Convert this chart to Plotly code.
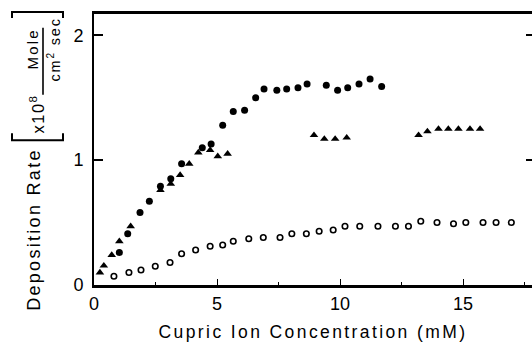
import plotly.graph_objects as go

# ---- data ----
filled_x = [1.03, 1.37, 1.87, 2.25, 2.70, 3.12, 3.56, 4.40, 4.76, 5.23, 5.66, 6.12,
            6.57, 6.91, 7.43, 7.83, 8.29, 8.66, 9.44, 9.90, 10.31, 10.77, 11.22, 11.69]
filled_y = [0.26, 0.41, 0.58, 0.67, 0.79, 0.85, 0.97, 1.10, 1.13, 1.28, 1.39, 1.40,
            1.50, 1.57, 1.56, 1.57, 1.58, 1.61, 1.60, 1.56, 1.58, 1.61, 1.65, 1.59]

tri_x = [0.24, 0.40, 0.72, 1.03, 1.49, 2.70, 3.12, 3.50, 3.87, 4.24, 4.72, 5.03, 5.43,
         8.94, 9.36, 9.80, 10.27, 13.19, 13.55, 14.00, 14.40, 14.81, 15.28, 15.69]
tri_y = [0.10, 0.155, 0.24, 0.35, 0.47, 0.76, 0.81, 0.88, 0.97, 1.06, 1.08, 1.03, 1.05,
         1.20, 1.17, 1.17, 1.18, 1.20, 1.23, 1.25, 1.25, 1.25, 1.25, 1.25]

open_x = [0.81, 1.42, 1.91, 2.49, 3.09, 3.56, 4.13, 4.72, 5.23, 5.66, 6.29, 6.88, 7.56,
          8.04, 8.63, 9.15, 9.72, 10.20, 10.80, 11.54, 12.25, 12.78, 13.28, 13.94,
          14.61, 15.11, 15.81, 16.34, 16.96]
open_y = [0.07, 0.10, 0.12, 0.15, 0.18, 0.25, 0.28, 0.31, 0.32, 0.35, 0.37, 0.38, 0.38,
          0.41, 0.41, 0.43, 0.44, 0.47, 0.47, 0.47, 0.47, 0.47, 0.51, 0.50,
          0.49, 0.50, 0.50, 0.50, 0.50]

x_title = "Cupric Ion Concentration (mM)"
y_title_main = "Deposition Rate"
y_title_factor = "x10<sup>8</sup>"
y_title_num = "Mole"
y_title_den = "cm<sup>2</sup> sec"

FONT = "Liberation Sans, Arial, Helvetica, sans-serif"
W, H = 532, 342
L, R, T, B = 94, 0, 14, 53
PW, PH = W - L - R, H - T - B


def px(xpix):
    return (xpix - L) / PW


def py(ypix):
    return (H - B - ypix) / PH


def spaced(s, sp):
    return f'<span style="letter-spacing:{sp}px">{s}</span>'


fig = go.Figure()
fig.add_trace(go.Scatter(x=filled_x, y=filled_y, mode="markers",
                         marker=dict(symbol="circle", size=7, color="black"),
                         showlegend=False))
fig.add_trace(go.Scatter(x=tri_x, y=tri_y, mode="markers", yaxis="y2",
                         marker=dict(symbol="triangle-up", size=7.5, color="black"),
                         showlegend=False))
fig.add_trace(go.Scatter(x=open_x, y=open_y, mode="markers",
                         marker=dict(symbol="circle-open", size=5.5, color="black",
                                     line=dict(width=1.6, color="black")),
                         showlegend=False))

yr = [0, 2.17]
fig.update_layout(
    width=W, height=H,
    margin=dict(l=L, r=R, t=T, b=B, pad=0),
    paper_bgcolor="white", plot_bgcolor="white",
    font=dict(family=FONT, size=17, color="black"),
    xaxis=dict(range=[0, 17.8], showgrid=False, zeroline=False,
               showline=True, linewidth=3, linecolor="black", mirror=True,
               ticks="inside", ticklen=6, tickwidth=1.2, tickcolor="black",
               tickvals=[0, 5, 10, 15],
               minor=dict(tickvals=[2.5, 7.5, 12.5, 17.5], ticks="inside",
                          ticklen=3, tickwidth=1, tickcolor="black"),
               tickfont=dict(size=18),
               title=dict(text=spaced(x_title, 2.4), font=dict(size=17.5), standoff=16)),
    yaxis=dict(range=yr, showgrid=False, zeroline=False,
               showline=True, linewidth=2, linecolor="black",
               ticks="inside", ticklen=9, tickwidth=1.5, tickcolor="black",
               tickvals=[0, 1, 2], tickfont=dict(size=18), ticklabelstandoff=5),
    yaxis2=dict(range=yr, overlaying="y", side="right", anchor="x",
                showgrid=False, zeroline=False, showline=False,
                ticks="inside", ticklen=6, tickwidth=1.5, tickcolor="black",
                tickvals=[1, 2], showticklabels=False),
)

ann = dict(xref="paper", yref="paper", textangle=-90, showarrow=False,
           xanchor="center", yanchor="middle")
fig.add_annotation(x=px(34), y=py(233), text=spaced(y_title_main, 2.3),
                   font=dict(family=FONT, color="black", size=18), **ann)
fig.add_annotation(x=px(37), y=py(116), text=spaced(y_title_factor, 1.5),
                   font=dict(family=FONT, color="black", size=16.5), **ann)
fig.add_annotation(x=px(32), y=py(50), text=spaced(y_title_num, 2.2),
                   font=dict(family=FONT, color="black", size=15), **ann)
fig.add_annotation(x=px(54), y=py(50), text=spaced(y_title_den, 1.8),
                   font=dict(family=FONT, color="black", size=14.5), **ann)

# fraction bar and brackets (title decoration)
line = dict(color="black", width=1.6)
fig.add_shape(type="line", xref="paper", yref="paper",
              x0=px(43), x1=px(43), y0=py(28), y1=py(96), line=line)
fig.add_shape(type="path", xref="paper", yref="paper",
              path=f"M {px(12)},{py(18)} L {px(12)},{py(12)} L {px(63)},{py(12)} L {px(63)},{py(18)}",
              line=dict(color="black", width=2))
fig.add_shape(type="path", xref="paper", yref="paper",
              path=f"M {px(12)},{py(135)} L {px(12)},{py(142)} L {px(63)},{py(142)} L {px(63)},{py(135)}",
              line=dict(color="black", width=2))

fig.write_html("out.html")
